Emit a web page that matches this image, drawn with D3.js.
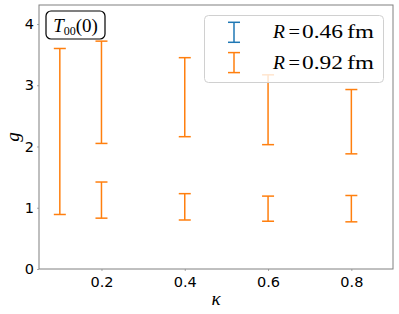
<!DOCTYPE html>
<html>
<head>
<meta charset="utf-8">
<script src="https://cdn.jsdelivr.net/npm/d3@7"></script>
<style>
  body { margin: 0; background: #fff; }
</style>
</head>
<body>
<div id="chart"></div>
<script>
const width = 399;
const height = 314;
const margin = {top: 5, right: 6, bottom: 45, left: 39};

// data (the R = 0.46 fm bars sit hidden under the orange ones)
const kappa = [0.1, 0.2, 0.4, 0.6, 0.8];
const lowA92 = [0.89, 2.05, 2.16, 2.03, 1.88];
const highA92 = [3.60, 3.72, 3.45, 3.17, 2.93];
const kappaB = [0.2, 0.4, 0.6, 0.8];
const lowB92 = [0.83, 0.80, 0.78, 0.77];
const highB92 = [1.42, 1.23, 1.19, 1.20];
const xTicks = [0.2, 0.4, 0.6, 0.8];
const yTicks = [0, 1, 2, 3, 4];
const legendLabels = ["0.46", "0.92"];
const colors = ["#1f77b4", "#ff7f0e"];

const svg = d3.select("#chart").append("svg")
  .attr("width", width)
  .attr("height", height)
  .style("font-family", "'DejaVu Sans', sans-serif");

const x = d3.scaleLinear().domain([0.05, 0.9]).range([margin.left, width - margin.right]);
const y = d3.scaleLinear().domain([0, 4.31]).range([height - margin.bottom, margin.top]);

// axes
svg.append("g")
  .attr("transform", `translate(0,${height - margin.bottom})`)
  .call(d3.axisBottom(x).tickValues(xTicks).tickSize(2).tickPadding(6).tickFormat(d3.format(".1f")))
  .call(g => g.select(".domain").remove())
  .call(g => g.selectAll(".tick line").attr("stroke", "#aaa"))
  .call(g => g.selectAll("text").style("font-family", "'DejaVu Sans'").style("font-size", "14.5px").attr("fill", "#000"));

svg.append("g")
  .attr("transform", `translate(${margin.left},0)`)
  .call(d3.axisLeft(y).tickValues(yTicks).tickSize(2).tickPadding(3).tickFormat(d3.format("d")))
  .call(g => g.select(".domain").remove())
  .call(g => g.selectAll(".tick line").attr("stroke", "#aaa"))
  .call(g => g.selectAll("text").style("font-family", "'DejaVu Sans'").style("font-size", "14.5px").attr("fill", "#000"));

// frame
svg.append("rect")
  .attr("x", margin.left)
  .attr("y", margin.top)
  .attr("width", width - margin.left - margin.right)
  .attr("height", height - margin.top - margin.bottom)
  .attr("fill", "none")
  .attr("stroke", "#808080")
  .attr("stroke-width", 1);

function errorbars(xs, lo, hi, color) {
  const g = svg.append("g").attr("stroke", color).attr("stroke-width", 1.5);
  xs.forEach((k, i) => {
    g.append("line").attr("x1", x(k)).attr("x2", x(k)).attr("y1", y(lo[i])).attr("y2", y(hi[i]));
    [lo[i], hi[i]].forEach(v => {
      g.append("line").attr("x1", x(k) - 6).attr("x2", x(k) + 6).attr("y1", y(v)).attr("y2", y(v));
    });
  });
}

errorbars(kappa, lowA92, highA92, colors[1]);
errorbars(kappaB, lowB92, highB92, colors[1]);

// axis labels
svg.append("text")
  .attr("x", (margin.left + width - margin.right) / 2)
  .attr("y", 305)
  .attr("text-anchor", "middle")
  .style("font-family", "'Liberation Serif'")
  .style("font-style", "italic")
  .style("font-size", "19px")
  .text("κ");

svg.append("text")
  .attr("transform", `translate(19,${(margin.top + height - margin.bottom) / 2}) rotate(-90)`)
  .attr("text-anchor", "middle")
  .style("font-family", "'Liberation Serif'")
  .style("font-style", "italic")
  .style("font-size", "19px")
  .text("g");

// title box
svg.append("rect")
  .attr("x", 46).attr("y", 11)
  .attr("width", 59).attr("height", 28)
  .attr("rx", 5)
  .attr("fill", "#fff")
  .attr("stroke", "#000")
  .attr("stroke-width", 1.2);

const title = svg.append("text")
  .attr("x", 75.5).attr("y", 31.5)
  .attr("text-anchor", "middle")
  .style("font-family", "'Liberation Serif'")
  .style("font-size", "19px");
title.append("tspan").style("font-style", "italic").text("T");
title.append("tspan").style("font-size", "12px").attr("dy", 3).text("00");
title.append("tspan").attr("dy", -3).text("(0)");

// legend
const legend = svg.append("g");
legend.append("rect")
  .attr("x", 204.5).attr("y", 15.5)
  .attr("width", 179).attr("height", 67)
  .attr("rx", 4)
  .attr("fill", "#fff")
  .attr("fill-opacity", 0.8)
  .attr("stroke", "#d0d0d0")
  .attr("stroke-width", 1);

legendLabels.forEach((lab, i) => {
  const cy = 32.3 + i * 30.3;
  const g = legend.append("g").attr("stroke", colors[i]).attr("stroke-width", 1.5);
  g.append("line").attr("x1", 234).attr("x2", 234).attr("y1", cy - 10).attr("y2", cy + 10);
  g.append("line").attr("x1", 228).attr("x2", 240).attr("y1", cy - 10).attr("y2", cy - 10);
  g.append("line").attr("x1", 228).attr("x2", 240).attr("y1", cy + 10).attr("y2", cy + 10);
  const t = legend.append("text")
    .attr("y", cy + 6)
    .style("font-family", "'Liberation Serif'")
    .style("font-size", "19.5px");
  t.append("tspan").attr("x", 273).style("font-style", "italic").text("R");
  t.append("tspan").attr("x", 288.5).attr("textLength", 11.5).attr("lengthAdjust", "spacingAndGlyphs").text("=");
  t.append("tspan").attr("x", 302).attr("textLength", 41).attr("lengthAdjust", "spacingAndGlyphs").text(lab);
  t.append("tspan").attr("x", 347).attr("textLength", 27).attr("lengthAdjust", "spacingAndGlyphs").text("fm");
});
</script>
</body>
</html>
